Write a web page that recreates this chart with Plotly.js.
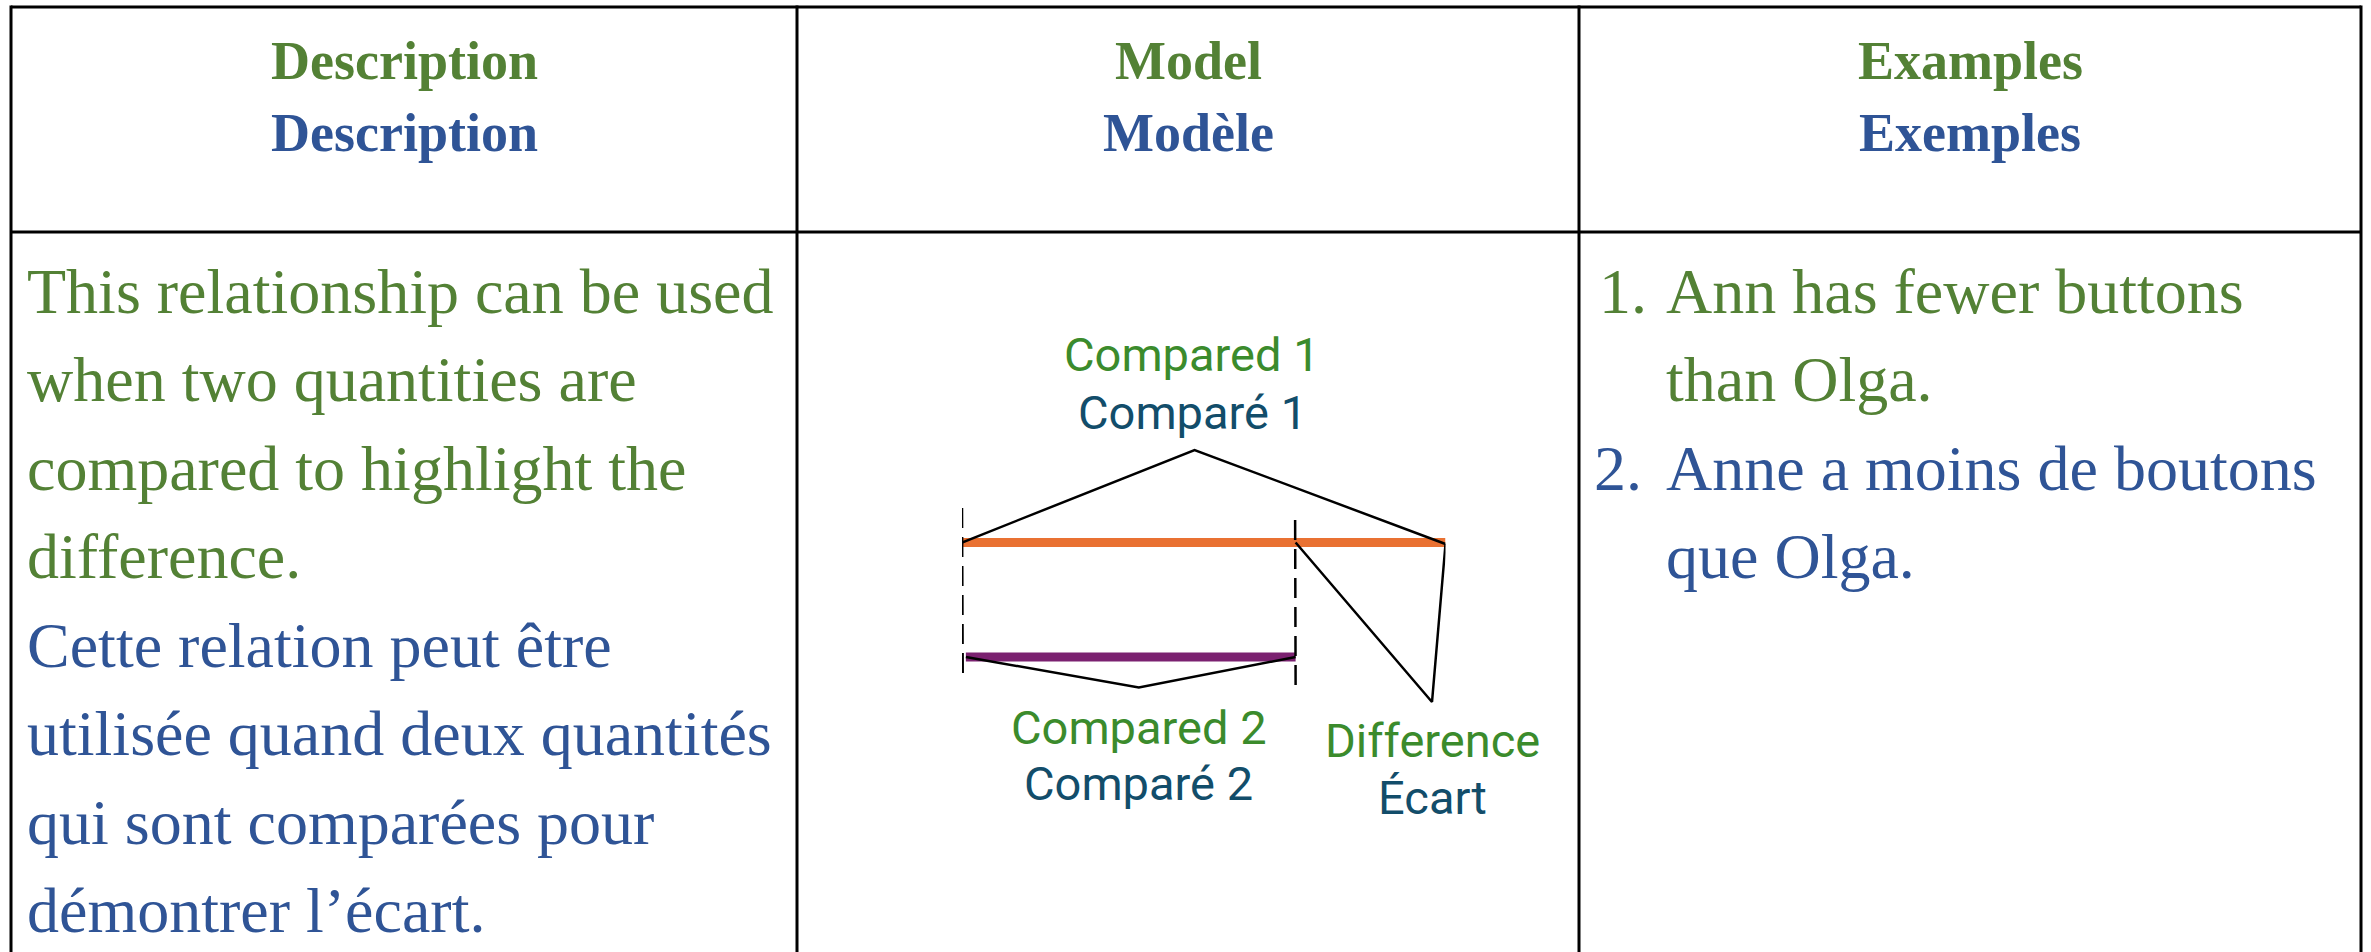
<!DOCTYPE html>
<html>
<head>
<meta charset="utf-8">
<script src="https://cdn.plot.ly/plotly-3.0.1.min.js"></script>
<style>html,body{margin:0;padding:0;background:#fff;}#chart{width:2371px;height:952px;}</style>
</head>
<body>
<div id="chart"></div>
<script>
// ---------- content ----------
const headerEn = ['Description', 'Model', 'Examples'];
const headerFr = ['Description', 'Modèle', 'Exemples'];
const descEn = ['This relationship can be used', 'when two quantities are', 'compared to highlight the', 'difference.'];
const descFr = ['Cette relation peut être', 'utilisée quand deux quantités', 'qui sont comparées pour', 'démontrer l\u2019écart.'];
const exampleNums = ['1.', '2.'];
const exampleEn = ['Ann has fewer buttons', 'than Olga.'];
const exampleFr = ['Anne a moins de boutons', 'que Olga.'];
const modelLabelsEn = ['Compared 1', 'Compared 2', 'Difference'];
const modelLabelsFr = ['Comparé 1', 'Comparé 2', 'Écart'];
// model quantities (relative lengths)
const compared1 = 100;
const compared2 = 69;
const difference = compared1 - compared2;

// ---------- layout constants ----------
const W = 2371, H = 952;
const colEdges = [11, 797, 1579, 2361];
const tableTop = 7, headerBottom = 232;
const serif = 'Liberation Serif, Times New Roman, serif';
const sans = 'Roboto, Arial, sans-serif';
const GREEN = '#538135', BLUE = '#2F5496';
const DGREEN = '#3B8B2C', TEAL = '#124D6A';
const ORANGE = '#E97132', PURPLE = '#7B2170';

// model x-axis (x2) maps 0..compared1 onto the orange bar
const modelX0 = 962, modelX1 = 1445.5;
const yOrange = 542.5, yPurple = 657;

const traces = [];
const line = (x, y, opts, axis) => traces.push(Object.assign({
  type: 'scatter', mode: 'lines', x: x, y: y, hoverinfo: 'skip', showlegend: false,
  cliponaxis: false, xaxis: axis || 'x', yaxis: 'y'
}, opts));

// table borders
line([colEdges[0], colEdges[3]], [tableTop, tableTop], {line: {color: '#000', width: 3}});
line([colEdges[0], colEdges[3]], [headerBottom, headerBottom], {line: {color: '#000', width: 3}});
colEdges.forEach(cx => line([cx, cx], [tableTop - 1.5, H + 5], {line: {color: '#000', width: 3}}));

// model diagram
const blk = {color: '#000', width: 2.5};
line([0, compared1], [yOrange, yOrange], {line: {color: ORANGE, width: 9}}, 'x2');
line([0.8, compared2], [yPurple, yPurple], {line: {color: PURPLE, width: 9}}, 'x2');
line([0, 0.15], [508, 675], {line: {color: '#000', width: 2.5, dash: '20px,9px'}}, 'x2');
line([compared2 - 0.1, compared2], [520, 688], {line: {color: '#000', width: 2.5, dash: '20px,9px'}}, 'x2');
// bracket over Compared 1
line([0, compared1 * 0.481, compared1], [yOrange, 450, yOrange + 1.5], {line: blk}, 'x2');
// bracket under Compared 2
line([0.8, compared2 * 0.53, compared2], [yPurple, 687.5, yPurple], {line: blk}, 'x2');
// difference bracket
line([compared2, compared2 + difference * 0.91, compared1], [yOrange, 702, yOrange + 1.5], {line: blk}, 'x2');

// ---------- annotations ----------
const ann = [];
const addText = (text, x, y, size, color, family, anchor, xref, bold) => ann.push({
  text: bold ? '<b>' + text + '</b>' : text, x: x, y: y, xref: xref || 'x', yref: 'y',
  xanchor: anchor || 'center', yanchor: 'middle', showarrow: false,
  font: {size: size, color: color, family: family}
});
const colCenters = [0, 1, 2].map(i => (colEdges[i] + colEdges[i + 1]) / 2);
headerEn.forEach((t, i) => addText(t, colCenters[i], 60.5, 54, GREEN, serif, 'center', 'x', true));
headerFr.forEach((t, i) => addText(t, colCenters[i], 132.5, 54, BLUE, serif, 'center', 'x', true));

const bodyMid0 = 291, lineStep = 88.5;
descEn.forEach((t, i) => addText(t, 25, bodyMid0 + lineStep * i, 64, GREEN, serif, 'left'));
descFr.forEach((t, i) => addText(t, 25, bodyMid0 + lineStep * (i + descEn.length), 64, BLUE, serif, 'left'));

addText(exampleNums[0], 1597, bodyMid0, 64, GREEN, serif, 'left');
exampleEn.forEach((t, i) => addText(t, 1664, bodyMid0 + lineStep * i, 64, GREEN, serif, 'left'));
addText(exampleNums[1], 1592, bodyMid0 + lineStep * 2, 64, BLUE, serif, 'left');
exampleFr.forEach((t, i) => addText(t, 1664, bodyMid0 + lineStep * (i + 2), 64, BLUE, serif, 'left'));

// model labels
const labelX = [compared1 * 0.476, compared2 * 0.53, compared2 + difference * 0.915];
const labelYEn = [354, 727, 740];
const labelYFr = [412, 783, 797.5];
modelLabelsEn.forEach((t, i) => addText(t, labelX[i], labelYEn[i], 47, DGREEN, sans, 'center', 'x2'));
modelLabelsFr.forEach((t, i) => addText(t, labelX[i], labelYFr[i], 47, TEAL, sans, 'center', 'x2'));

const axisOff = {visible: false, showgrid: false, zeroline: false, fixedrange: true};
const layout = {
  width: W, height: H,
  margin: {l: 0, r: 0, t: 0, b: 0, pad: 0},
  paper_bgcolor: '#fff', plot_bgcolor: 'rgba(0,0,0,0)',
  showlegend: false,
  xaxis: Object.assign({range: [0, W], domain: [0, 1]}, axisOff),
  xaxis2: Object.assign({range: [0, compared1], domain: [modelX0 / W, modelX1 / W], anchor: 'y'}, axisOff),
  yaxis: Object.assign({range: [H, 0], domain: [0, 1]}, axisOff),
  annotations: ann
};
Plotly.newPlot('chart', traces, layout, {displayModeBar: false, staticPlot: true});
</script>
</body>
</html>
